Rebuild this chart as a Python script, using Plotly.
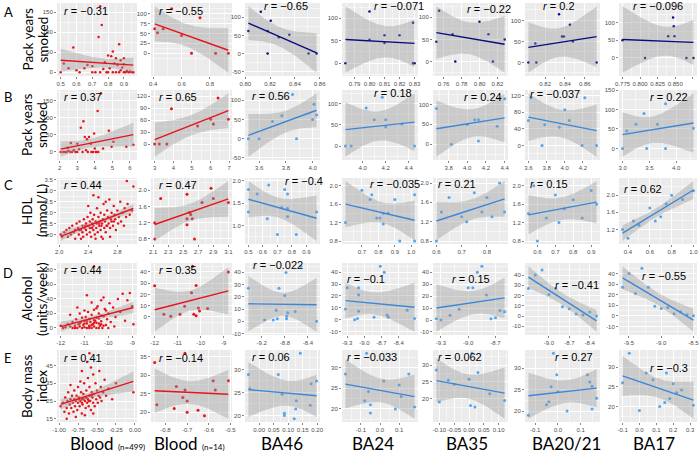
import math
import numpy as np
import plotly.graph_objects as go

W, H = 700, 453

# ---------------- DATA ----------------
# Row A: Pack years smoked
A1_x = [0.50,0.52,0.55,0.58,0.60,0.62,0.65,0.67,0.70,0.70,0.72,0.74,0.75,0.75,0.76,0.77,0.78,0.80,0.80,0.81,0.82,0.83,0.84,0.85,0.85,0.86,0.87,0.88,0.88,0.89,0.90,0.90,0.90,0.92,0.93,0.95,0.79,0.83,0.87,0.91,0.94,0.96]
A1_y = [0,22,10,62,5,0,10,18,15,0,0,88,165,0,118,8,25,42,0,10,40,52,22,35,0,18,70,30,5,12,35,20,0,3,0,0,0,0,0,0,2,0]
A2_x = [0.41,0.43,0.47,0.53,0.60,0.67,0.73,0.84,0.93]
A2_y = [62,52,62,113,45,0,90,0,0]
A3_x = [0.8025,0.8125,0.818,0.818,0.8205,0.827,0.8355,0.851,0.8575]
A3_y = [62,115,62,0,90,45,52,0,0]
A4_x = [0.784,0.800,0.800,0.810,0.810,0.820,0.829,0.829,0.830]
A4_y = [0,52,115,62,45,62,90,0,0]
A5_x = [0.752,0.755,0.770,0.773,0.800,0.810,0.815,0.828]
A5_y = [45,115,62,0,90,62,0,50]
A6_x = [0.803,0.810,0.811,0.834,0.837,0.839,0.845,0.848,0.872]
A6_y = [0,45,0,115,62,62,90,50,0]
A7_x = [0.775,0.807,0.840,0.847,0.848,0.849,0.866,0.876]
A7_y = [50,0,62,115,90,62,0,0]

# Row B: Pack years smoked
B1_x = [2.05,2.2,2.4,2.5,2.63,2.7,2.8,3.0,3.0,3.1,3.2,3.35,3.43,3.55,3.67,3.77,3.9,3.96,4.0,4.1,4.16,4.2,4.35,4.47,4.8,4.96,5.06,5.8,6.2,2.3,2.6,2.9,3.3,3.5,3.8,4.05,2.45,3.6]
B1_y = [0,0,0,3,26,0,5,24,0,8,71,90,44,37,44,24,0,54,10,0,120,0,172,10,62,15,30,15,21,0,0,0,0,5,0,0,12,0]
B2_x = [3.0,3.25,3.65,3.9,5.3,6.0,6.15,6.95,6.4]
B2_y = [0,0,0,88,45,62,50,62,115]
B3_x = [3.52,3.60,3.70,3.77,3.88,4.00,4.01,4.03,3.85]
B3_y = [0,0,45,60,0,50,90,62,115]
B4_x = [3.85,3.90,4.03,4.10,4.17,4.20,4.20,4.34,4.45]
B4_y = [0,0,90,62,115,62,45,52,0]
B5_x = [3.67,3.83,4.08,4.12,4.12,4.32,4.40,4.00]
B5_y = [90,0,62,62,8,45,115,50]
B6_x = [3.60,3.63,3.75,3.78,3.94,4.00,4.05,4.19,4.35,4.22]
B6_y = [60,115,0,50,44,86,60,0,0,115]
B7_x = [3.00,3.08,3.25,3.40,3.45,3.65,3.80,3.80,4.32]
B7_y = [0,45,62,90,0,62,115,0,52]

# Row C: HDL (mmol/L)
C1_x = [2.02,2.04,2.07,2.10,2.12,2.14,2.16,2.18,2.20,2.22,2.22,2.24,2.26,2.27,2.28,2.30,2.32,2.32,2.33,2.34,2.35,2.37,2.37,2.38,2.39,2.40,2.42,2.42,2.42,2.43,2.44,2.45,2.46,2.47,2.47,2.48,2.49,2.50,2.51,2.52,2.52,2.53,2.54,2.55,2.56,2.57,2.57,2.58,2.59,2.60,2.61,2.62,2.62,2.63,2.64,2.65,2.66,2.67,2.68,2.69,2.70,2.71,2.72,2.72,2.74,2.75,2.76,2.77,2.78,2.80,2.81,2.82,2.84,2.85,2.87,2.89,2.90,2.92,2.94,2.97,3.00,2.93,3.02,2.47,2.54,2.64,2.40,2.50,2.60,2.30,2.70,2.36,2.45,2.55,2.66,2.75,2.28,2.58]
C1_y = [1.0,0.9,1.1,1.2,0.9,1.3,1.0,1.4,1.1,1.2,0.8,1.5,1.3,1.0,1.6,1.2,1.4,1.1,0.9,1.7,1.3,1.5,1.2,1.0,1.8,1.4,1.6,1.3,1.1,2.0,0.9,1.5,1.7,1.2,1.4,1.9,1.0,1.6,1.3,1.5,2.2,1.1,1.8,1.4,1.6,1.2,2.0,0.9,1.5,1.7,2.4,1.3,1.9,1.6,1.1,1.4,2.1,1.8,1.5,2.6,1.3,1.7,2.0,1.6,1.4,2.3,1.9,1.7,1.2,2.1,1.5,1.8,2.5,1.6,2.0,1.4,2.2,1.8,2.4,1.9,2.1,3.45,3.2,2.8,2.7,2.5,2.3,0.8,0.8,0.8,0.9,1.4,1.3,1.5,1.4,1.6,1.2,1.4]
C2_x = [2.12,2.12,2.20,2.55,2.55,2.55,2.60,2.62,2.65,2.75,2.90,3.10,2.87,2.58]
C2_y = [1.20,0.80,1.80,1.90,1.30,1.15,1.40,1.30,0.80,1.70,1.80,1.70,2.05,1.45]
C3_x = [0.50,0.50,0.56,0.64,0.63,0.70,0.73,0.75,0.77,0.77,0.77,0.83,0.97]
C3_y = [1.80,1.30,1.70,1.90,1.15,0.80,1.40,1.80,1.70,1.38,1.20,0.80,1.30]
C4_x = [0.60,0.70,0.76,0.75,0.79,0.81,0.83,0.83,0.86,0.90,0.93,1.02,1.02]
C4_y = [1.20,1.90,1.80,1.70,1.30,1.30,1.40,1.17,1.40,1.70,0.80,1.80,0.80]
C5_x = [0.60,0.62,0.65,0.70,0.72,0.75,0.78,0.80,0.82,0.85,0.87]
C5_y = [0.80,1.40,1.70,1.30,1.20,1.80,1.40,1.70,1.30,2.00,1.40]
C6_x = [0.55,0.58,0.60,0.65,0.70,0.72,0.75,0.80,0.85,0.90,0.93]
C6_y = [1.40,2.00,0.80,1.30,1.80,1.20,1.50,1.70,1.30,1.90,1.60]
C7_x = [0.35,0.40,0.45,0.50,0.60,0.65,0.70,0.75,0.80,0.90,1.00]
C7_y = [1.20,1.00,1.40,1.30,1.70,1.40,1.50,1.80,2.00,1.90,2.10]

# Row D: Alcohol (units/week)
D1_x = [-12.0,-11.9,-11.8,-11.7,-11.6,-11.5,-11.5,-11.4,-11.35,-11.3,-11.25,-11.2,-11.2,-11.15,-11.1,-11.05,-11.0,-11.0,-10.95,-10.9,-10.9,-10.85,-10.8,-10.8,-10.75,-10.7,-10.7,-10.65,-10.6,-10.6,-10.55,-10.5,-10.5,-10.45,-10.4,-10.4,-10.35,-10.3,-10.3,-10.25,-10.2,-10.15,-10.1,-10.05,-10.0,-10.0,-9.95,-9.9,-9.8,-9.75,-9.7,-9.6,-9.5,-9.4,-9.3,-9.2,-9.1,-9.0,-8.95,-10.6,-10.9,-10.2,-11.6,-11.3,-10.7,-10.5,-11.0,-10.8,-10.6,-10.4,-10.2,-11.4,-11.1,-10.3,-10.1,-11.2,-10.9,-10.7,-10.5,-10.3,-10.6,-10.8,-11.0,-10.4]
D1_y = [3,0,1,5,2,0,8,3,12,0,5,2,20,8,0,4,10,1,15,6,0,22,3,12,8,0,18,5,25,2,10,0,14,30,6,20,3,9,38,0,16,26,4,12,0,20,34,8,28,2,15,40,22,47,10,38,48,30,5,85,45,42,18,28,35,27,24,0,7,0,3,0,14,17,24,6,9,4,7,5,11,2,6,13]
D2_x = [-12.0,-11.6,-11.3,-10.9,-10.7,-10.4,-10.2,-10.3,-10.2,-10.1,-10.05,-9.7,-8.8,-10.35]
D2_y = [27.7,2.5,0.7,2.5,9.5,21.5,28,2.5,1,8,5.3,7.6,40,45]
D3_x = [-9.43,-9.15,-9.00,-8.95,-8.93,-8.90,-8.80,-8.78,-8.77,-8.77,-8.75,-8.62,-8.52,-8.25]
D3_y = [27,1,1,9,2,27,21,40,2,4,7,8,45,0]
D4_x = [-9.33,-9.30,-9.17,-9.12,-9.10,-9.10,-9.10,-8.83,-8.72,-8.65,-8.60,-8.58,-8.25,-8.12]
D4_y = [9,27,0,1,21,7,27,2,45,40,4,2,8,1]
D5_x = [-9.35,-9.30,-9.20,-9.10,-9.00,-8.95,-8.90,-8.85,-8.80,-8.75,-8.70,-8.65,-8.60]
D5_y = [1,0,4,9,27,27,40,45,21,1,2,8,7]
D6_x = [-9.30,-9.20,-9.10,-9.00,-8.90,-8.80,-8.70,-8.60,-8.50,-8.40,-8.30]
D6_y = [27,40,45,21,27,9,7,2,1,4,0]
D7_x = [-9.60,-9.50,-9.40,-9.30,-9.20,-9.10,-9.00,-8.90,-8.80,-8.70,-8.60,-8.50]
D7_y = [27,40,21,45,27,9,7,8,2,4,1,0]

# Row E: Body mass index
E1_x = [-0.98,-0.95,-0.93,-0.92,-0.90,-0.89,-0.88,-0.87,-0.86,-0.85,-0.84,-0.83,-0.82,-0.81,-0.80,-0.80,-0.79,-0.78,-0.77,-0.76,-0.75,-0.75,-0.74,-0.73,-0.72,-0.71,-0.70,-0.70,-0.69,-0.68,-0.67,-0.66,-0.65,-0.65,-0.64,-0.63,-0.62,-0.62,-0.61,-0.60,-0.60,-0.59,-0.58,-0.57,-0.56,-0.55,-0.55,-0.54,-0.53,-0.52,-0.51,-0.50,-0.49,-0.48,-0.47,-0.46,-0.45,-0.44,-0.42,-0.40,-0.38,-0.35,-0.30,-0.25,-0.02,-0.60,-0.63,-0.70,-0.85,-0.78,-0.66,-0.55,-0.90,-0.72,-0.58,-0.68,-0.64,-0.70,-0.61,-0.57,-0.74]
E1_y = [22,24,19,27,21,25,30,18,23,26,21,28,24,19,26,31,22,25,28,20,24,33,27,22,25,30,18,26,23,29,35,25,21,27,31,24,38,26,22,28,33,25,20,30,27,24,40,29,22,35,26,31,24,28,42,27,33,25,30,37,28,32,26,35,30,52,47,42,34,16,17,18,15,36,44,26,27,24,25,28,26]
E2_x = [-0.85,-0.84,-0.76,-0.75,-0.72,-0.71,-0.70,-0.70,-0.65,-0.62,-0.58,-0.57,-0.51,-0.71]
E2_y = [33.5,22,21,27,24,26,20,23,20.5,19,28.5,26,28.5,36]
E3_x = [-0.037,-0.032,0.066,0.079,0.087,0.087,0.121,0.126,0.128,0.142,0.176,0.179,0.198]
E3_y = [28.9,25.8,28.9,24.6,20.5,20.0,19.3,21.4,23.2,33.5,22.2,26.9,27.5]
E4_x = [-0.18,-0.07,-0.06,-0.08,-0.05,-0.05,0.02,0.08,0.10,0.11,0.15,0.18]
E4_y = [28.5,33.5,24.2,22.0,21.0,19.0,26.8,20.0,25.8,23.0,28.5,20.5]
E5_x = [-0.11,-0.10,-0.07,-0.05,0.01,0.00,0.03,0.005,0.02,0.07,0.12]
E5_y = [28.5,19.0,25.5,24.3,33.5,25.8,27.8,18.0,17.5,21.5,19.5]
E6_x = [-0.13,-0.05,-0.04,-0.03,-0.005,0.00,-0.02,0.04,0.13,0.14,0.15,0.15,0.17]
E6_y = [19.0,21.5,22.2,25.7,28.5,24.5,33.5,20.0,28.5,26.8,25.8,20.5,23.0]
E7_x = [-0.10,-0.06,0.00,0.04,0.08,0.12,0.15,0.16,0.18,0.20,0.22,0.25,0.32]
E7_y = [26.0,33.5,19.0,28.5,26.8,20.0,21.0,28.5,22.0,25.8,23.5,24.2,20.3]

# Correlation labels
R_LABELS = [
    ["−0.31", "−0.55", "−0.65", "−0.071", "−0.22", "0.2", "−0.096"],
    ["0.37", "0.65", "0.56", "0.18", "0.24", "−0.037", "0.22"],
    ["0.44", "0.47", "−0.4", "−0.035", "0.21", "0.15", "0.62"],
    ["0.44", "0.35", "−0.022", "−0.1", "0.15", "−0.41", "−0.55"],
    ["0.41", "−0.14", "0.06", "−0.033", "0.062", "0.27", "−0.3"],
]

# Tick labels
XT = [
    [["0.5","0.6","0.7","0.8","0.9"], ["0.4","0.6","0.8"], ["0.80","0.82","0.84","0.86"], ["0.78","0.79","0.80","0.81","0.82","0.83"], ["0.76","0.78","0.80","0.82"], ["0.82","0.84","0.86"], ["0.775","0.800","0.825","0.850","0.875"]],
    [["2","3","4","5","6"], ["3","4","5","6","7"], ["3.6","3.8","4.0"], ["4.0","4.2","4.4"], ["3.8","4.0","4.2","4.4"], ["3.6","3.8","4.0","4.2"], ["3.0","3.5","4.0"]],
    [["2.0","2.4","2.8"], ["2.1","2.3","2.5","2.7","2.9","3.1"], ["0.5","0.6","0.7","0.8","0.9","1.0"], ["0.7","0.8","0.9","1.0"], ["0.6","0.7","0.8"], ["0.6","0.7","0.8","0.9"], ["0.4","0.6","0.8","1.0"]],
    [["-12","-11","-10","-9"], ["-12","-11","-10","-9"], ["-9.2","-8.8","-8.4"], ["-9.3","-9.0","-8.7","-8.4"], ["-9.3","-9.0","-8.7"], ["-9.0","-8.7","-8.4"], ["-9.5","-9.0","-8.5"]],
    [["-1.00","-0.75","-0.50","-0.25","0.00"], ["-0.8","-0.7","-0.6","-0.5"], ["0.00","0.05","0.10","0.15","0.20"], ["-0.1","0.0","0.1"], ["-0.10","-0.05","0.00","0.05","0.10"], ["-0.1","0.0","0.1"], ["-0.1","0.0","0.1","0.2","0.3"]],
]
YT = [
    [["0","50","100","150"], ["0","25","50","75","100"], ["-50","0","50","100"], ["0","50","100"], ["0","50","100"], ["0","50","100"], ["0","50","100"]],
    [["0","50","100","150"], ["0","30","60","90","120"], ["-50","0","50","100"], ["0","50","100"], ["0","50","100"], ["0","40","80","120"], ["0","50","100","150"]],
    [["1.0","1.5","2.0","2.5","3.0","3.5"], ["0.8","1.2","1.6","2.0"], ["1.0","1.5","2.0"], ["0.8","1.2","1.6","2.0"], ["0.8","1.2","1.6","2.0"], ["0.8","1.2","1.6","2.0"], ["0.8","1.2","1.6","2.0"]],
    [["0","20","40","60","80"], ["0","10","20","30","40"], ["-10","0","10","20","30","40"], ["-10","0","10","20","30","40"], ["-10","0","10","20","30","40"], ["-10","0","10","20","30","40"], ["-10","0","10","20","30","40"]],
    [["15","25","35","45","55"], ["20","25","30","35"], ["20","25","30"], ["20","25","30"], ["20","25","30"], ["20","25","30"], ["20","25","30"]],
]

ROW_TITLES = [["Pack years", "smoked"], ["Pack years", "smoked"], ["HDL", "(mmol/L)"], ["Alcohol", "(units/week)"], ["Body mass", "index"]]
ROW_LETTERS = ["A", "B", "C", "D", "E"]
COL_TITLES = ["Blood <span style='font-size:8px'>(n=499)</span>", "Blood <span style='font-size:8px'>(n=14)</span>", "BA46", "BA24", "BA35", "BA20/21", "BA17"]

DATA = [
    [(A1_x, A1_y), (A2_x, A2_y), (A3_x, A3_y), (A4_x, A4_y), (A5_x, A5_y), (A6_x, A6_y), (A7_x, A7_y)],
    [(B1_x, B1_y), (B2_x, B2_y), (B3_x, B3_y), (B4_x, B4_y), (B5_x, B5_y), (B6_x, B6_y), (B7_x, B7_y)],
    [(C1_x, C1_y), (C2_x, C2_y), (C3_x, C3_y), (C4_x, C4_y), (C5_x, C5_y), (C6_x, C6_y), (C7_x, C7_y)],
    [(D1_x, D1_y), (D2_x, D2_y), (D3_x, D3_y), (D4_x, D4_y), (D5_x, D5_y), (D6_x, D6_y), (D7_x, D7_y)],
    [(E1_x, E1_y), (E2_x, E2_y), (E3_x, E3_y), (E4_x, E4_y), (E5_x, E5_y), (E6_x, E6_y), (E7_x, E7_y)],
]

# ---------------- LAYOUT (pixels) ----------------
COL_PX = [(57, 137), (151, 232), (245, 320), (342, 418), (433, 508), (525, 600), (619, 697)]
ROW_PX = [(3, 76), (90, 160), (178, 244), (263, 335), (350, 422)]
LAB_POS = [
    [(62, 11), (157, 11), (262, 6), (372, 6), (465, 9), (541, 6), (631, 6)],
    [(62, 97), (157, 97), (250, 96), (372, 93), (462, 97), (528, 94), (648, 97)],
    [(62, 185), (157, 185), (283, 181), (368, 184), (436, 184), (528, 184), (622, 189)],
    [(62, 270), (157, 270), (251, 265), (345, 279), (450, 279), (553, 285), (640, 276)],
    [(62, 358), (157, 358), (250, 357), (345, 357), (436, 357), (553, 357), (648, 368)],
]
COL_TITLE_X = [107, 190, 282, 373, 467, 566, 654]
ROW_LETTER_Y = [12, 97, 185, 273, 358]
ROW_TITLE_LINE_X = [27, 42]

RED = "#E8121A"
NAVY = "#0A0A80"
BLUE = "#3A87D8"
LBLUE = "#4FA6F2"
BAND = "rgba(153,153,153,0.4)"
TICKFONT = dict(family="Liberation Sans, Arial", size=6, color="#4D4D4D")


def tq(df):
    z = 1.959964
    return (z + (z**3 + z) / (4 * df) + (5 * z**5 + 16 * z**3 + 3 * z) / (96 * df**2)
            + (3 * z**7 + 19 * z**5 + 17 * z**3 - 15 * z) / (384 * df**3))


def fit_band(x, y, n_grid=80):
    x = np.asarray(x, float)
    y = np.asarray(y, float)
    n = len(x)
    xm = x.mean()
    sxx = ((x - xm) ** 2).sum()
    b = ((x - xm) * (y - y.mean())).sum() / sxx
    a = y.mean() - b * xm
    res = y - (a + b * x)
    s = math.sqrt((res ** 2).sum() / (n - 2))
    g = np.linspace(x.min(), x.max(), n_grid)
    f = a + b * g
    se = s * np.sqrt(1.0 / n + (g - xm) ** 2 / sxx)
    t = tq(n - 2)
    return g, f, f - t * se, f + t * se


def minor_vals(major):
    if len(major) < 2:
        return []
    d = major[1] - major[0]
    return [major[0] - d / 2] + [m + d / 2 for m in major]


fig = go.Figure()
layout = dict(
    width=W, height=H, margin=dict(l=0, r=0, t=0, b=0),
    paper_bgcolor="white", plot_bgcolor="#EBEBEB", showlegend=False,
    annotations=[],
)

for r in range(5):
    for c in range(7):
        k = r * 7 + c + 1
        xn = "x" if k == 1 else f"x{k}"
        yn = "y" if k == 1 else f"y{k}"
        xs, ys = DATA[r][c]
        g, f, lo, hi = fit_band(xs, ys)
        if c < 2:
            pc, lc, ps = RED, RED, 3 if c == 1 else 2.5
        elif r == 0:
            pc, lc, ps = NAVY, NAVY, 2.5
        else:
            pc, lc, ps = LBLUE, BLUE, 3
        fig.add_trace(go.Scatter(x=xs, y=ys, mode="markers", xaxis=xn, yaxis=yn,
                                 marker=dict(color=pc, size=ps, line=dict(width=0)),
                                 hoverinfo="skip"))
        fig.add_trace(go.Scatter(x=np.concatenate([g, g[::-1]]), y=np.concatenate([hi, lo[::-1]]),
                                 fill="toself", fillcolor=BAND, mode="lines", line=dict(width=0),
                                 xaxis=xn, yaxis=yn, hoverinfo="skip"))
        fig.add_trace(go.Scatter(x=g, y=f, mode="lines", line=dict(color=lc, width=1.4),
                                 xaxis=xn, yaxis=yn, hoverinfo="skip"))

        xmin, xmax = min(xs), max(xs)
        xsp = xmax - xmin
        ymin = min(min(ys), lo.min())
        ymax = max(max(ys), hi.max())
        ysp = ymax - ymin
        xr = [xmin - 0.05 * xsp, xmax + 0.05 * xsp]
        yr = [ymin - 0.05 * ysp, ymax + 0.05 * ysp]

        xtl = XT[r][c]
        ytl = YT[r][c]
        xtv = [float(v) for v in xtl]
        ytv = [float(v) for v in ytl]
        x0, x1 = COL_PX[c]
        y0, y1 = ROW_PX[r]
        common = dict(showgrid=True, gridcolor="white", gridwidth=1, zeroline=False,
                      showline=False, ticks="outside", ticklen=2, tickwidth=0.6,
                      tickcolor="#333333", tickfont=TICKFONT, tickmode="array",
                      tickangle=0, automargin=False)
        layout["xaxis" if k == 1 else f"xaxis{k}"] = dict(
            common, domain=[x0 / W, x1 / W], anchor=yn, range=xr,
            tickvals=xtv, ticktext=xtl,
            minor=dict(tickmode="array", tickvals=minor_vals(xtv), showgrid=True,
                       gridcolor="white", gridwidth=0.5, ticks=""))
        layout["yaxis" if k == 1 else f"yaxis{k}"] = dict(
            common, domain=[1 - y1 / H, 1 - y0 / H], anchor=xn, range=yr,
            tickvals=ytv, ticktext=ytl,
            minor=dict(tickmode="array", tickvals=minor_vals(ytv), showgrid=True,
                       gridcolor="white", gridwidth=0.5, ticks=""))

        lx, ly = LAB_POS[r][c]
        layout["annotations"].append(dict(
            x=lx / W, y=1 - ly / H, xref="paper", yref="paper", xanchor="left", yanchor="middle",
            text="<i>r</i> = " + R_LABELS[r][c], showarrow=False,
            font=dict(family="Liberation Sans, Arial", size=11, color="black")))

for r in range(5):
    y0, y1 = ROW_PX[r]
    for li, line in enumerate(ROW_TITLES[r]):
        layout["annotations"].append(dict(
            x=ROW_TITLE_LINE_X[li] / W, y=1 - (y0 + y1) / 2 / H, xref="paper", yref="paper",
            xanchor="center", yanchor="middle",
            text=line, textangle=-90, showarrow=False,
            font=dict(family="Lato, Carlito, sans-serif", size=13.5, color="black")))
    layout["annotations"].append(dict(
        x=8 / W, y=1 - ROW_LETTER_Y[r] / H, xref="paper", yref="paper", xanchor="center", yanchor="middle",
        text=ROW_LETTERS[r], showarrow=False,
        font=dict(family="Lato, Carlito, sans-serif", size=13, color="black")))

for c in range(7):
    layout["annotations"].append(dict(
        x=COL_TITLE_X[c] / W, y=1 - 443 / H, xref="paper", yref="paper", xanchor="center", yanchor="middle",
        text=COL_TITLES[c], showarrow=False,
        font=dict(family="Lato, Carlito, sans-serif", size=17, color="black")))

fig.update_layout(**layout)
fig.write_html("out.html", config={"displayModeBar": False, "staticPlot": True},
               post_script="document.body.style.margin='0';document.body.style.overflow='hidden';")
